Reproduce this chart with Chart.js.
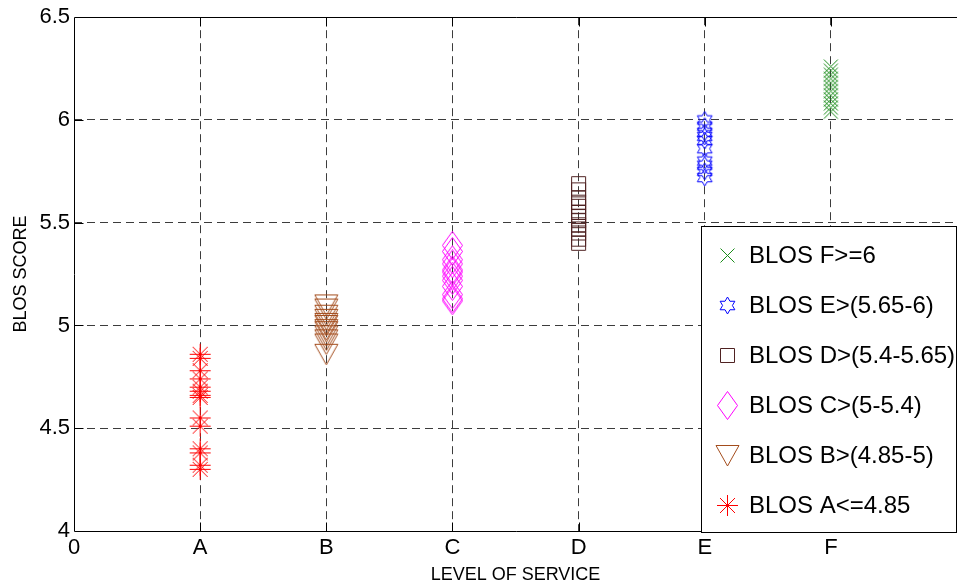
<!DOCTYPE html>
<html><head><meta charset="utf-8">
<script src="https://cdn.jsdelivr.net/npm/chart.js@4"></script>
<style>html,body{margin:0;padding:0;background:#fff;overflow:hidden}</style>
</head><body>
<canvas id="c" width="957" height="588"></canvas>
<script>
// ---- data ----
const xTickLabels = ['0', 'A', 'B', 'C', 'D', 'E', 'F', ''];
const yTickLabels = ['4', '4.5', '5', '5.5', '6', '6.5'];
const seriesNames = ['BLOS A<=4.85', 'BLOS B>(4.85-5)', 'BLOS C>(5-5.4)', 'BLOS D>(5.4-5.65)', 'BLOS E>(5.65-6)', 'BLOS F>=6'];
const seriesX = [1, 2, 3, 4, 5, 6];
const blosA = [4.86, 4.84, 4.78, 4.74, 4.70, 4.68, 4.66, 4.65, 4.55, 4.51, 4.40, 4.38, 4.32, 4.30];
const blosB = [5.10, 5.08, 5.05, 5.03, 5.01, 5.00, 4.98, 4.97, 4.95, 4.93, 4.91, 4.86];
const blosC = [5.39, 5.36, 5.32, 5.30, 5.27, 5.26, 5.24, 5.22, 5.19, 5.15, 5.13, 5.12];
const blosD = [5.69, 5.66, 5.62, 5.60, 5.58, 5.55, 5.53, 5.51, 5.49, 5.47, 5.45, 5.42, 5.40];
const blosE = [6.00, 5.97, 5.94, 5.92, 5.90, 5.86, 5.80, 5.78, 5.75, 5.72];
const blosF = [6.26, 6.24, 6.22, 6.20, 6.18, 6.16, 6.14, 6.12, 6.10, 6.08, 6.06, 6.04];
const seriesValues = [blosA, blosB, blosC, blosD, blosE, blosF];

// ---- styles ----
const seriesColors = ['#ff0000', '#a34c1c', '#ff00ff', '#4f2222', '#0000ff', '#1a8c1a'];
const seriesMarkers = ['asterisk', 'triangleDown', 'diamond', 'square', 'hexagram', 'x'];

function makeMarker(kind, color) {
  const c = document.createElement('canvas');
  const sizes = {asterisk:[23,23], triangleDown:[25,23], diamond:[21,29], square:[17,17], hexagram:[19,19], x:[17,17]};
  const [w, h] = sizes[kind];
  c.width = w; c.height = h;
  const g = c.getContext('2d');
  g.strokeStyle = color; g.lineWidth = 1;
  g.beginPath();
  const cx = w / 2, cy = h / 2;
  if (kind === 'asterisk') {
    g.moveTo(1, cy); g.lineTo(w - 1, cy);
    g.moveTo(cx, 1); g.lineTo(cx, h - 1);
    const d = 7.5;
    g.moveTo(cx - d, cy - d); g.lineTo(cx + d, cy + d);
    g.moveTo(cx + d, cy - d); g.lineTo(cx - d, cy + d);
  } else if (kind === 'triangleDown') {
    g.moveTo(1, 1.5); g.lineTo(w - 1, 1.5); g.lineTo(cx, h - 1); g.closePath();
  } else if (kind === 'diamond') {
    g.moveTo(cx, 0.5); g.lineTo(w - 0.5, cy); g.lineTo(cx, h - 0.5); g.lineTo(0.5, cy); g.closePath();
  } else if (kind === 'square') {
    g.rect(1.5, 1.5, w - 3, h - 3);
  } else if (kind === 'hexagram') {
    const R = 8.5, r = R / Math.sqrt(3);
    for (let i = 0; i < 12; i++) {
      const a = -Math.PI / 2 + i * Math.PI / 6;
      const rr = i % 2 === 0 ? R : r;
      const px = cx + rr * Math.cos(a), py = cy + rr * Math.sin(a);
      if (i === 0) g.moveTo(px, py); else g.lineTo(px, py);
    }
    g.closePath();
  } else if (kind === 'x') {
    g.moveTo(1.5, 1.5); g.lineTo(w - 1.5, h - 1.5);
    g.moveTo(w - 1.5, 1.5); g.lineTo(1.5, h - 1.5);
  }
  g.stroke();
  return c;
}
const markerImgs = seriesMarkers.map((m, i) => makeMarker(m, seriesColors[i]));

const datasets = seriesValues.map((vals, i) => ({
  label: seriesNames[i],
  data: vals.map(v => ({x: seriesX[i], y: v})),
  pointStyle: markerImgs[i],
  pointRadius: 8,
  borderColor: seriesColors[i],
  backgroundColor: 'transparent',
  showLine: false
}));

const FONT = "'Liberation Sans', Arial, Helvetica, sans-serif";

const framePlugin = {
  id: 'frame',
  afterDatasetsDraw(chart) {
    const {ctx, chartArea: a, scales} = chart;
    ctx.save();
    ctx.strokeStyle = '#000'; ctx.lineWidth = 1; ctx.setLineDash([]);
    ctx.beginPath();
    const L = Math.round(a.left) + 0.5, T = Math.round(a.top) + 0.5, B = Math.round(a.bottom) + 0.5;
    ctx.moveTo(a.right + 2, T); ctx.lineTo(L, T); ctx.lineTo(L, B); ctx.lineTo(a.right + 2, B);
    const tl = 9;
    for (let v = 1; v <= 6; v++) {
      const x = Math.round(scales.x.getPixelForValue(v)) + 0.5;
      ctx.moveTo(x, B); ctx.lineTo(x, B - tl);
      ctx.moveTo(x, T); ctx.lineTo(x, T + tl);
    }
    for (let v = 4.5; v <= 6.01; v += 0.5) {
      const y = Math.round(scales.y.getPixelForValue(v)) + 0.5;
      ctx.moveTo(L, y); ctx.lineTo(L + tl, y);
    }
    ctx.stroke();
    ctx.restore();
  }
};

const legendPlugin = {
  id: 'boxLegend',
  afterDraw(chart) {
    const {ctx} = chart;
    const bx = 701.5, by = 226.5, bw = 255, bh = 306;
    ctx.save();
    ctx.fillStyle = '#fff';
    ctx.fillRect(bx, by, bw, bh);
    ctx.strokeStyle = '#000'; ctx.lineWidth = 1; ctx.setLineDash([]);
    ctx.strokeRect(bx, by, bw, bh);
    ctx.font = '24px ' + FONT;
    ctx.fillStyle = '#000';
    ctx.textBaseline = 'middle';
    ctx.textAlign = 'left';
    const order = [5, 4, 3, 2, 1, 0];
    order.forEach((idx, k) => {
      const y = 255 + k * 50;
      const img = markerImgs[idx];
      ctx.drawImage(img, Math.round(727 - img.width / 2), Math.round(y - img.height / 2));
      ctx.fillText(seriesNames[idx], 749, y + 1);
    });
    ctx.restore();
  }
};

new Chart(document.getElementById('c'), {
  type: 'scatter',
  data: {datasets},
  plugins: [framePlugin, legendPlugin],
  options: {
    responsive: false,
    animation: false,
    events: [],
    layout: {autoPadding: false, padding: {top: 17, right: 0, left: 0, bottom: 0}},
    plugins: {legend: {display: false}, tooltip: {enabled: false}},
    scales: {
      x: {
        type: 'linear', min: 0, max: 7,
        afterFit(s) { s.height = 57; s.paddingRight = 0; s.paddingLeft = 0; },
        ticks: {stepSize: 1, autoSkip: false, maxRotation: 0, color: '#000', padding: 4,
          font: {family: FONT, size: 22},
          callback: v => xTickLabels[v] !== undefined ? xTickLabels[v] : ''},
        grid: {drawTicks: false, lineWidth: 1,
          color: c => (c.tick && c.tick.value >= 1 && c.tick.value <= 6) ? '#3c3c3c' : 'rgba(0,0,0,0)'},
        border: {display: false, dash: [8, 5]},
        title: {display: true, text: 'LEVEL OF SERVICE', color: '#000', font: {family: FONT, size: 18}, padding: {top: 0, bottom: 2}}
      },
      y: {
        type: 'linear', min: 4, max: 6.5,
        afterFit(s) { s.width = 74; },
        ticks: {stepSize: 0.5, color: '#000', padding: 4, font: {family: FONT, size: 22},
          callback: (v, i) => yTickLabels[Math.round((v - 4) / 0.5)]},
        grid: {drawTicks: false, lineWidth: 1,
          color: c => (c.tick && c.tick.value > 4.01 && c.tick.value < 6.49) ? '#3c3c3c' : 'rgba(0,0,0,0)'},
        border: {display: false, dash: [8, 5]},
        title: {display: true, text: 'BLOS SCORE', color: '#000', font: {family: FONT, size: 18}, padding: {top: 10, bottom: 0}}
      }
    }
  }
});
</script>
</body></html>
